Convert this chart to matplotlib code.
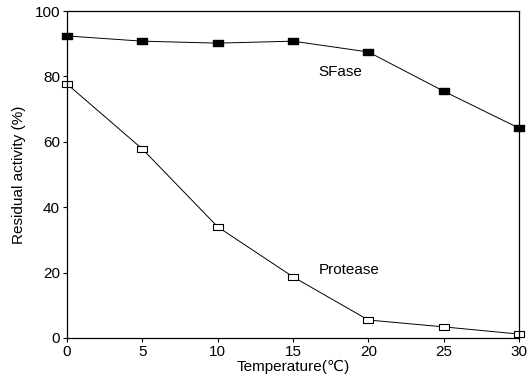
import matplotlib
matplotlib.use("Agg")
import matplotlib.pyplot as plt
from matplotlib.path import Path

temperature = [0, 5, 10, 15, 20, 25, 30]
sfase = [92.4, 90.8, 90.2, 90.8, 87.5, 75.5, 64.2]
protease = [77.7, 57.8, 34.0, 18.7, 5.5, 3.4, 1.2]

plt.rcParams['font.family'] = ['Liberation Sans', 'DejaVu Sans']

# slightly wide rectangular marker like the scanned original
rect = Path([(-1, -0.7), (1, -0.7), (1, 0.7), (-1, 0.7), (-1, -0.7)],
            [Path.MOVETO, Path.LINETO, Path.LINETO, Path.LINETO, Path.CLOSEPOLY])

fig = plt.figure(figsize=(5.28, 3.83), dpi=100)
ax = fig.add_axes([0.127, 0.1175, 0.856, 0.8535])

ax.plot(temperature, sfase, color='black', linewidth=0.7, marker=rect,
        markersize=7, markerfacecolor='black', clip_on=False)
ax.plot(temperature, protease, color='black', linewidth=0.7, marker=rect,
        markersize=7, markerfacecolor='white', markeredgewidth=0.8, clip_on=False)

ax.text(16.7, 81.3, "SFase", fontsize=11, va='center', ha='left')
ax.text(16.7, 20.8, "Protease", fontsize=11, va='center', ha='left')

ax.set_xlim(0, 30)
ax.set_ylim(0, 100)
ax.set_xticks([0, 5, 10, 15, 20, 25, 30])
ax.set_yticks([0, 20, 40, 60, 80, 100])
ax.tick_params(direction='out', length=3, width=0.8, labelsize=11, pad=2)
ax.set_xlabel("Temperature(\u2103)", fontsize=11, labelpad=1)
ax.set_ylabel("Residual activity (%)", fontsize=11, labelpad=6)
for s in ax.spines.values():
    s.set_linewidth(0.9)

fig.savefig("out.png", dpi=100)
